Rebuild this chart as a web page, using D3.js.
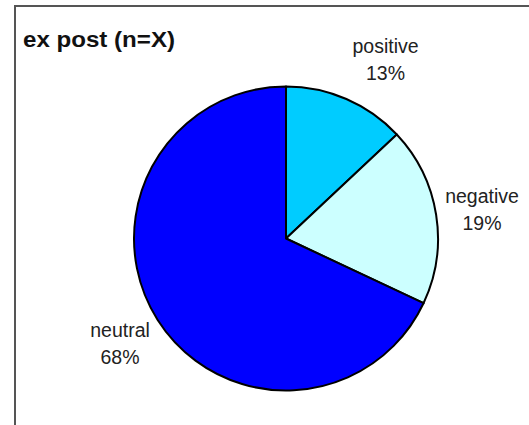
<!DOCTYPE html>
<html>
<head>
<meta charset="utf-8">
<script src="https://cdn.jsdelivr.net/npm/d3@7"></script>
<style>
  html, body { margin: 0; padding: 0; background: #fff; }
  svg { display: block; }
</style>
</head>
<body>
<svg id="chart" width="529" height="425"></svg>
<script>
// Sentiment shares, ex post
const categories = ["positive", "negative", "neutral"];
const shares = [13, 19, 68];
const colors = ["#00CCFF", "#CCFFFF", "#0000FF"];
const title = "ex post (n=X)";

const svg = d3.select("#chart");
const W = 529, H = 425;

// frame: top and left rules
svg.append("line").attr("x1", 14).attr("x2", W).attr("y1", 6).attr("y2", 6)
  .attr("stroke", "#555").attr("stroke-width", 2);
svg.append("line").attr("x1", 15).attr("x2", 15).attr("y1", 5).attr("y2", H)
  .attr("stroke", "#555").attr("stroke-width", 2);

svg.append("text")
  .attr("x", 23).attr("y", 47)
  .attr("font-family", "Liberation Sans, Arial, sans-serif")
  .attr("font-weight", "bold")
  .attr("font-size", 21.5)
  .attr("textLength", 152)
  .attr("lengthAdjust", "spacingAndGlyphs")
  .attr("fill", "#111")
  .text(title);

const cx = 286, cy = 238.5, r = 152;
const data = categories.map((c, i) => ({ name: c, value: shares[i], color: colors[i] }));

const pie = d3.pie().value(d => d.value).sort(null);
const arc = d3.arc().innerRadius(0).outerRadius(r);
const arcs = pie(data);

const g = svg.append("g").attr("transform", `translate(${cx},${cy})`);
g.selectAll("path").data(arcs).join("path")
  .attr("d", arc)
  .attr("fill", d => d.data.color)
  .attr("stroke", "#000")
  .attr("stroke-width", 2)
  .attr("stroke-linejoin", "round");

// label positions relative to the pie centre (baseline of the name line)
const labelOffsets = [[385.5 - cx, 53 - cy], [482 - cx, 203 - cy], [120 - cx, 337 - cy]];
const labels = g.selectAll("g.lbl").data(arcs).join("g").attr("class", "lbl")
  .attr("transform", (d, i) => `translate(${labelOffsets[i][0]},${labelOffsets[i][1]})`);

labels.append("text")
  .attr("text-anchor", "middle")
  .attr("font-family", "Liberation Sans, Arial, sans-serif")
  .attr("font-size", 19.5)
  .attr("fill", "#222")
  .text(d => d.data.name);
labels.append("text")
  .attr("text-anchor", "middle")
  .attr("y", 27)
  .attr("font-family", "Liberation Sans, Arial, sans-serif")
  .attr("font-size", 19.5)
  .attr("fill", "#222")
  .text(d => d3.format(".0f")(d.data.value) + "%");
</script>
</body>
</html>
